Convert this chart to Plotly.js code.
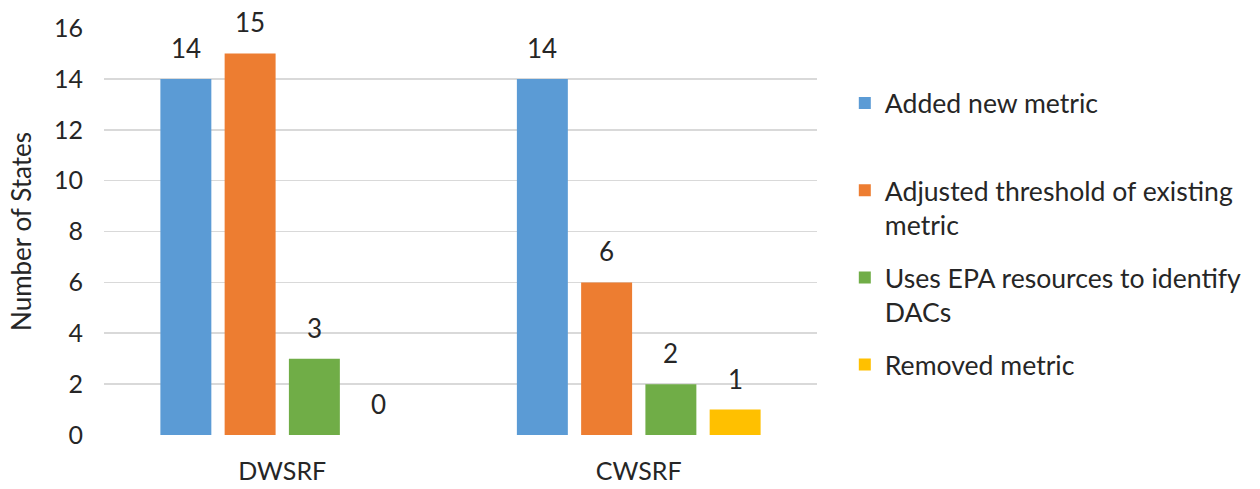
<!DOCTYPE html>
<html>
<head>
<meta charset="utf-8">
<script src="https://cdn.plot.ly/plotly-3.0.1.min.js"></script>
<style>
  html, body { margin: 0; padding: 0; background: #ffffff; }
  #chart { width: 1260px; height: 489px; }
</style>
</head>
<body>
<div id="chart"></div>
<script>
// Programs compared
const categories = ['DWSRF', 'CWSRF'];

// Series: number of states per change type
const seriesNames = [
  'Added new metric',
  'Adjusted threshold of existing<br>metric',
  'Uses EPA resources to identify<br>DACs',
  'Removed metric'
];
const addedNewMetric = [14, 14];
const adjustedThreshold = [15, 6];
const usesEpaResources = [3, 2];
const removedMetric = [0, 1];

const seriesValues = [addedNewMetric, adjustedThreshold, usesEpaResources, removedMetric];
const seriesColors = ['#5b9bd5', '#ed7d31', '#70ad47', '#ffc000'];

const yTickValues = [0, 2, 4, 6, 8, 10, 12, 14, 16];

// Layout geometry
const W = 1260, H = 489;
const margin = { l: 104, r: 443, t: 28, b: 54 };
const plotW = W - margin.l - margin.r;
const bargap = 0.279;
const bargroupgap = 0.207;
const nSeries = seriesValues.length;
const slotPx = (plotW / categories.length) * (1 - bargap) / nSeries;

const FONT = 'Lato, "Liberation Sans", Arial, sans-serif';
const TEXT_COLOR = '#262626';

// Legend labels: pad single-line labels with a blank line so every entry
// occupies the same height in the legend column.
const legendLabels = seriesNames.map((n, i) =>
  (i < nSeries - 1 && n.indexOf('<br>') < 0) ? n + '<br>\u00a0' : n);

const traces = seriesValues.map((vals, i) => ({
  type: 'bar',
  name: legendLabels[i],
  legendgroup: 'g' + i,
  x: categories,
  y: vals,
  marker: { color: seriesColors[i], line: { width: 0 } },
  hoverinfo: 'x+y'
}));

// Value labels above each bar
const annotations = [];
seriesValues.forEach((vals, i) => {
  vals.forEach((v, j) => {
    annotations.push({
      x: categories[j],
      y: v,
      xref: 'x',
      yref: 'y',
      text: String(v),
      showarrow: false,
      xanchor: 'center',
      yanchor: 'bottom',
      xshift: (i - (nSeries - 1) / 2) * slotPx,
      yshift: 13,
      font: { family: FONT, size: 26, color: TEXT_COLOR }
    });
  });
});

const layout = {
  width: W,
  height: H,
  margin: margin,
  paper_bgcolor: '#ffffff',
  plot_bgcolor: '#ffffff',
  barmode: 'group',
  bargap: bargap,
  bargroupgap: bargroupgap,
  font: { family: FONT, size: 25, color: TEXT_COLOR },
  xaxis: {
    type: 'category',
    range: [-0.5, categories.length - 0.5],
    showgrid: false,
    showline: false,
    zeroline: false,
    ticks: '',
    ticklabelstandoff: 19,
    tickfont: { family: FONT, size: 25, color: TEXT_COLOR },
    fixedrange: true
  },
  yaxis: {
    range: [0, 16],
    tickmode: 'array',
    tickvals: yTickValues,
    ticktext: yTickValues.map(String),
    showgrid: true,
    gridcolor: '#d9d9d9',
    gridwidth: 1.6,
    zeroline: false,
    showline: false,
    ticks: '',
    ticklabelstandoff: 20,
    tickfont: { family: FONT, size: 25, color: TEXT_COLOR },
    title: {
      text: 'Number of States',
      font: { family: FONT, size: 26, color: TEXT_COLOR },
      standoff: 14
    },
    automargin: false,
    fixedrange: true
  },
  legend: {
    x: 1.039,
    xanchor: 'left',
    y: 0.874,
    yanchor: 'top',
    traceorder: 'grouped',
    tracegroupgap: 15,
    valign: 'top',
    itemclick: false,
    itemdoubleclick: false,
    font: { family: FONT, size: 26.6, color: TEXT_COLOR },
    bgcolor: 'rgba(0,0,0,0)'
  },
  showlegend: true,
  annotations: annotations
};

Plotly.newPlot('chart', traces, layout, { displayModeBar: false, staticPlot: true });
</script>
</body>
</html>
